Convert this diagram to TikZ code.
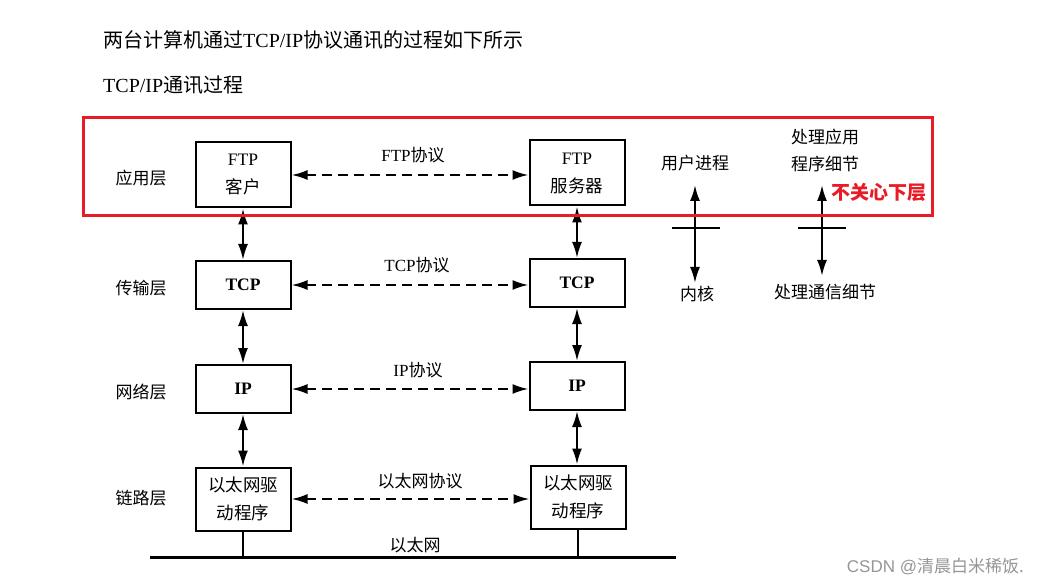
\documentclass[tikz,border=0pt]{standalone}
\usepackage{fontspec}
\setmainfont{Liberation Serif}
\newfontfamily\cjk{Noto Sans CJK SC}
\newfontfamily\sansf{Liberation Sans}
\usetikzlibrary{arrows.meta}
\definecolor{hlred}{RGB}{232,28,38}
\definecolor{wmgray}{RGB}{150,150,150}
\begin{document}
\begin{tikzpicture}[x=1pt,y=-1pt,
  box/.style={draw, line width=2pt, minimum width=95pt, inner sep=0pt, align=center,
    font=\fontsize{17.5}{28}\selectfont},
  lbl/.style={inner sep=0pt, align=center, font=\fontsize{17}{27}\selectfont\cjk},
  tip/.style={>={Latex[length=16pt,width=10pt]}},
  darr/.style={tip, <->, line width=2.2pt, dash pattern=on 10pt off 6pt},
  varr/.style={tip, <->, line width=2.2pt},
  ttl/.style={anchor=west, inner sep=0pt, font=\fontsize{20}{24}\selectfont}
]
\useasboundingbox[fill=white] (0,0) rectangle (1038,585);

% titles
\node[ttl] (t1) at (103,40) {{\cjk 两台计算机通过}TCP/IP{\cjk 协议通讯的过程如下所示}};
\node[ttl] (t2) at (103,85) {TCP/IP{\cjk 通讯过程}};

% layer labels
\node[lbl] (l1) at (141,178) {应用层};
\node[lbl] (l2) at (141,288) {传输层};
\node[lbl] (l3) at (141,392) {网络层};
\node[lbl] (l4) at (141,498) {链路层};

% left stack
\node[box, minimum height=65pt] (ftpL) at (243,175) {FTP\\{\cjk 客户}};
\node[box, minimum height=48pt] (tcpL) at (243,285) {\bfseries TCP};
\node[box, minimum height=48pt] (ipL) at (243,389) {\bfseries IP};
\node[box, minimum height=63pt] (ethL) at (243,499) {\cjk 以太网驱\\\cjk 动程序};

% right stack
\node[box, minimum height=65pt] (ftpR) at (577,173) {FTP\\{\cjk 服务器}};
\node[box, minimum height=48pt] (tcpR) at (577,283) {\bfseries TCP};
\node[box, minimum height=48pt] (ipR) at (577,386) {\bfseries IP};
\node[box, minimum height=63pt] (ethR) at (578,497) {\cjk 以太网驱\\\cjk 动程序};

% peer protocols
\draw[darr] (ftpL.east) -- (ftpL.east -| ftpR.west);
\draw[darr] (tcpL.east) -- (tcpL.east -| tcpR.west);
\draw[darr] (ipL.east) -- (ipL.east -| ipR.west);
\draw[darr] (ethL.east) -- (ethL.east -| ethR.west);
\node[lbl] (p1) at (413,155) {\rmfamily FTP\cjk 协议};
\node[lbl] (p2) at (417,265) {\rmfamily TCP\cjk 协议};
\node[lbl] (p3) at (418,370) {\rmfamily IP\cjk 协议};
\node[lbl] (p4) at (420,481) {以太网协议};

% vertical arrows
\draw[varr] (ftpL.south) -- (tcpL.north);
\draw[varr] (tcpL.south) -- (ipL.north);
\draw[varr] (ipL.south) -- (ethL.north);
\draw[varr] (ftpR.south) -- (ftpR.south |- tcpR.north);
\draw[varr] (tcpR.south) -- (tcpR.south |- ipR.north);
\draw[varr] (ipR.south) -- (ipR.south |- ethR.north);

% ethernet
\coordinate (eA) at (150,557);
\coordinate (eB) at (676,557);
\draw[line width=3pt] (eA) -- (eB);
\draw[line width=1.2pt] (ethL.south) -- (ethL.south |- eA);
\draw[line width=1.2pt] (ethR.south) -- (ethR.south |- eA);
\node[lbl] (enet) at (415,545) {以太网};

% right side legend
\node[lbl] (up) at (695,163) {用户进程};
\node[lbl] (kern) at (697,294) {内核};
\coordinate (uA) at (695,185);
\coordinate (uB) at (695,283);
\draw[varr] (uA) -- (uB);
\draw[line width=1.4pt] (672,228) -- (720,228);

\node[lbl] (app) at (825,150) {处理应用\\程序细节};
\node[lbl] (comm) at (825,292) {处理通信细节};
\coordinate (aA) at (822,185);
\coordinate (aB) at (822,276);
\draw[varr] (aA) -- (aB);
\draw[line width=1.4pt] (798,228) -- (846,228);

% highlight
\draw[hlred, line width=3pt] (83,118) rectangle (932,216);
\node[inner sep=0pt, text=hlred, font=\fontsize{19}{22}\selectfont\cjk\bfseries] (nc) at (879,192) {不关心下层};

% watermark
\node[inner sep=0pt, text=wmgray, font=\fontsize{17}{20}\selectfont, anchor=east] (wm) at (1024,566) {\sansf CSDN @\cjk 清晨白米稀饭.};
\end{tikzpicture}
\end{document}
